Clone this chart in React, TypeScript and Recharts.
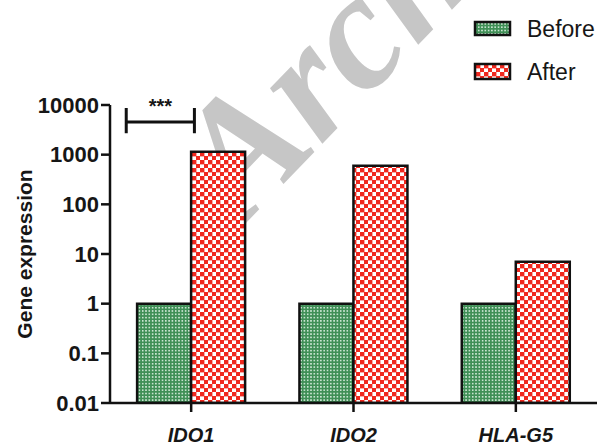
import React from 'react';
import { BarChart, Bar, XAxis, YAxis, ReferenceLine, Legend, Customized } from 'recharts';

const genes = ['IDO1', 'IDO2', 'HLA-G5'];
const beforeValues = [1, 1, 1];
const afterValues = [1150, 600, 7];
const yTicks = [0.01, 0.1, 1, 10, 100, 1000, 10000];
const seriesNames = ['Before', 'After'];
const sigLabel = '***';
const sigX = [0.1, 0.52];
const sigY = [2700, 4550, 8700];
const watermarkText = 'Archive';

const data = genes.map((g, i) => ({ gene: g, Before: beforeValues[i], After: afterValues[i] }));

const FONT = "'Liberation Sans', Arial, sans-serif";
const INK = '#161616';

const Patterns = ({ prefix }: { prefix: string }) => (
  <defs>
    <pattern id={`${prefix}Before`} width="3.3" height="3.3" patternUnits="userSpaceOnUse">
      <rect width="3.3" height="3.3" fill="#3f8f56" />
      <rect width="1.6" height="1.6" fill="#cfe8d6" />
    </pattern>
    <pattern id={`${prefix}After`} width="8" height="8" patternUnits="userSpaceOnUse">
      <rect width="8" height="8" fill="#ffffff" />
      <rect width="4.4" height="4.4" fill="#f0281e" />
      <rect x="4" y="4" width="4.4" height="4.4" fill="#f0281e" />
    </pattern>
  </defs>
);

const Watermark = () => (
  <text
    x={243}
    y={226}
    transform="rotate(-46 243 226)"
    fontFamily="'Liberation Serif', 'Times New Roman', serif"
    fontWeight="bold"
    fontStyle="italic"
    fontSize={166}
    fill="#c6c6c6"
  >
    {watermarkText}
  </text>
);

const LegendContent = () => (
  <svg width={131} height={92} style={{ display: 'block' }}>
    <Patterns prefix="lg" />
    {seriesNames.map((name, i) => (
      <g key={name}>
        <rect x={7} y={i === 0 ? 22 : 64} width={35} height={i === 0 ? 13 : 15}
          fill={`url(#lg${name})`} stroke="#111" strokeWidth={2.5} />
        <text x={59} y={i === 0 ? 29 : 72} dominantBaseline="central" fontFamily={FONT}
          fontSize={23} fill={INK}>{name}</text>
      </g>
    ))}
  </svg>
);

const YLabel = (props: any) => {
  const vb = props.viewBox || { x: 0, y: 105, width: 110, height: 298 };
  const x = vb.x + 24;
  const y = vb.y + vb.height / 2;
  return (
    <text x={x} y={y} transform={`rotate(-90 ${x} ${y})`} textAnchor="middle" dominantBaseline="central"
      fontFamily={FONT} fontWeight="bold" fontSize={21} fill={INK}>Gene expression</text>
  );
};

export default function App() {
  return (
    <div style={{ width: 599, height: 447, background: '#fff' }}>
      <style>{`body{margin:0;background:#fff}`}</style>
      <BarChart
        width={599}
        height={447}
        data={data}
        margin={{ top: 105, right: 2, bottom: 0, left: 0 }}
        barCategoryGap="16.7%"
        barGap={0}
      >
        <Patterns prefix="p" />
        <XAxis
          dataKey="gene"
          height={44}
          interval={0}
          tickSize={9}
          tickMargin={16}
          axisLine={{ stroke: '#111', strokeWidth: 2.5 }}
          tickLine={{ stroke: '#111', strokeWidth: 2.5 }}
          tick={{ fontSize: 20, fontStyle: 'italic', fontWeight: 'bold', fill: INK, fontFamily: FONT }}
        />
        <XAxis xAxisId="n" dataKey="Before" type="number" domain={[0, 3]} allowDataOverflow hide />
        <YAxis
          scale="log"
          type="number"
          domain={[0.01, 10000]}
          ticks={yTicks}
          allowDataOverflow
          width={110}
          tickSize={9}
          tickMargin={2}
          tickFormatter={(v: number) => String(v)}
          axisLine={{ stroke: '#111', strokeWidth: 2.5 }}
          tickLine={{ stroke: '#111', strokeWidth: 2.5 }}
          tick={{ fontSize: 22, fontWeight: 'bold', fill: INK, fontFamily: FONT }}
          label={<YLabel />}
        />
        <Bar dataKey="Before" fill="url(#pBefore)" stroke="#111" strokeWidth={2.5} isAnimationActive={false} />
        <Bar dataKey="After" fill="url(#pAfter)" stroke="#111" strokeWidth={2.5} isAnimationActive={false} />
        <ReferenceLine
          xAxisId="n"
          segment={[{ x: sigX[0], y: sigY[1] }, { x: sigX[1], y: sigY[1] }]}
          stroke="#111"
          strokeWidth={3}
          ifOverflow="visible"
          label={{ value: sigLabel, position: 'top', offset: 9, fontSize: 20, fontWeight: 'bold', fill: INK, fontFamily: FONT }}
        />
        <ReferenceLine
          xAxisId="n"
          segment={[{ x: sigX[0], y: sigY[0] }, { x: sigX[0], y: sigY[2] }]}
          stroke="#111"
          strokeWidth={3}
          ifOverflow="visible"
        />
        <ReferenceLine
          xAxisId="n"
          segment={[{ x: sigX[1], y: sigY[0] }, { x: sigX[1], y: sigY[2] }]}
          stroke="#111"
          strokeWidth={3}
          ifOverflow="visible"
        />
        <Customized component={Watermark} />
        <Legend
          layout="vertical"
          align="center"
          verticalAlign="middle"
          content={() => <LegendContent />}
          wrapperStyle={{ left: 468, top: 0, width: 131, height: 92, background: '#fff' }}
        />
      </BarChart>
    </div>
  );
}
